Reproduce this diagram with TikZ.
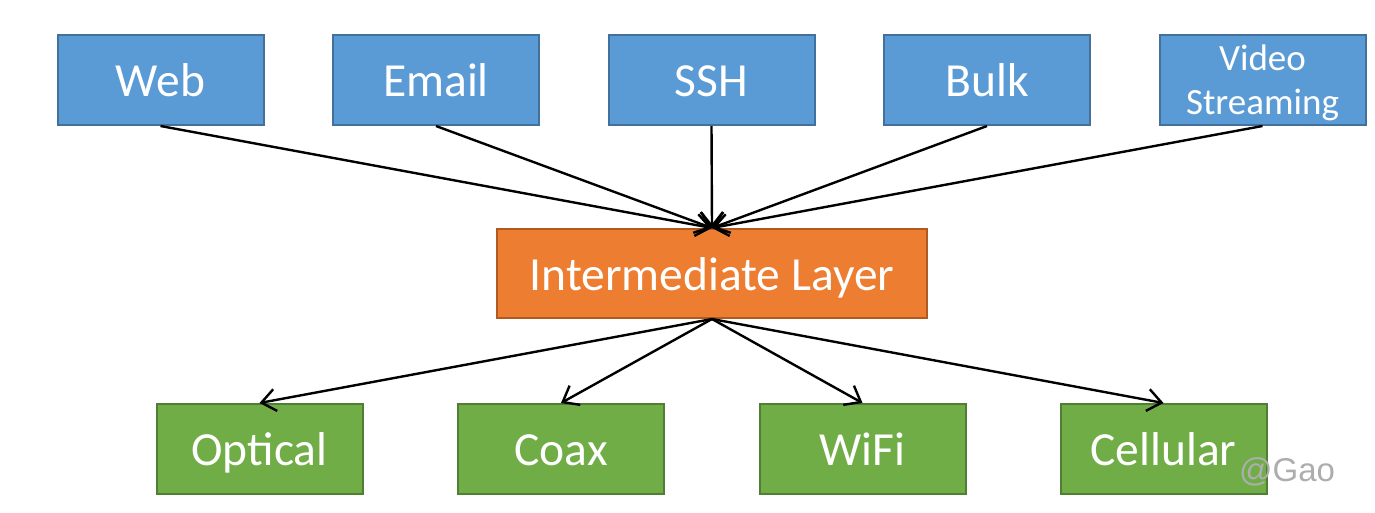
\documentclass[tikz,border=0pt]{standalone}
\usepackage{fontspec}
\setmainfont{Carlito}
\newfontfamily\wmfont{Liberation Sans}
\usetikzlibrary{arrows.meta}
\definecolor{bluefill}{HTML}{5B9BD5}
\definecolor{blueline}{HTML}{41719C}
\definecolor{orangefill}{HTML}{ED7D31}
\definecolor{orangeline}{HTML}{AE5A21}
\definecolor{greenfill}{HTML}{70AD47}
\definecolor{greenline}{HTML}{507E32}
\definecolor{wmgray}{HTML}{ADADAD}
\tikzset{
  box/.style={rectangle, inner sep=0pt, minimum width=206pt, minimum height=90pt,
    line width=2pt, text=white, font=\fontsize{47.5}{56}\selectfont, align=center,
    text height=33.5pt, text depth=0pt},
  appbox/.style={box, fill=bluefill, draw=blueline},
  midbox/.style={box, fill=orangefill, draw=orangeline, minimum width=430pt, minimum height=89pt},
  linkbox/.style={box, fill=greenfill, draw=greenline},
  conn/.style={line width=2.4pt, -{Straight Barb[length=14pt,width=22pt,line width=2.4pt]}}
}
\begin{document}
\begin{tikzpicture}[x=1pt,y=-1pt]
\useasboundingbox (0,0) rectangle (1375,512);
\node[appbox] (web) at (160.5,80) {Web};
\node[appbox] (email) at (436,80) {Email};
\node[appbox] (ssh) at (711.5,80) {SSH};
\node[appbox] (bulk) at (987,80) {Bulk};
\node[appbox, font=\fontsize{37}{44}\selectfont, text height=, text depth=1.5pt] (video) at (1262.5,80) {Video\\Streaming};
\node[midbox] (mid) at (712,273.5) {Intermediate Layer};
\node[linkbox] (optical) at (259.5,449) {Optical};
\node[linkbox] (coax) at (561,449) {Coax};
\node[linkbox] (wifi) at (862.5,449) {WiFi};
\node[linkbox] (cell) at (1163.5,449) {Cellular};
\foreach \s in {web,email,ssh,bulk,video}
  \draw[conn] (\s.south) -- (mid.north);
\foreach \t in {optical,coax,wifi,cell}
  \draw[conn] (mid.south) -- (\t.north);
\node[anchor=base, text=wmgray, font=\wmfont\fontsize{33}{40}\selectfont, inner sep=0pt] (wm) at (1287,481) {@Gao};
\end{tikzpicture}
\end{document}
